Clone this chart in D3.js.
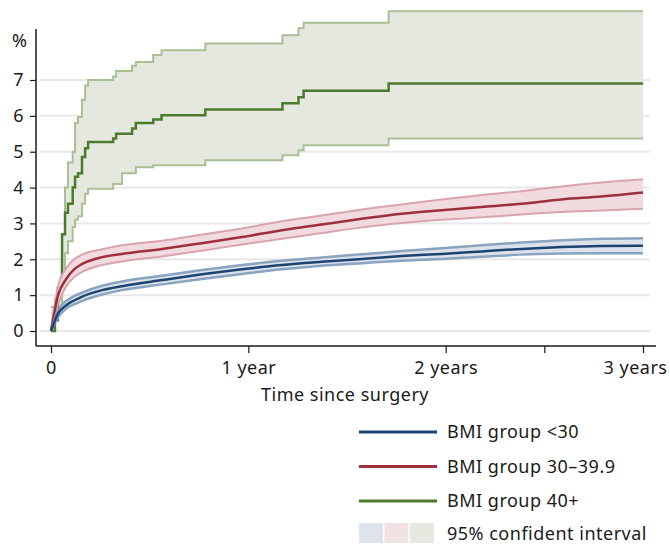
<!DOCTYPE html>
<html>
<head>
<meta charset="utf-8">
<script src="https://cdn.jsdelivr.net/npm/d3@7"></script>
<style>
  body { margin: 0; background: #fff; }
  svg text { font-family: "Noto Sans", "Open Sans", sans-serif; fill: #1a1a1a; letter-spacing: 0.5px; }
</style>
</head>
<body>
<div id="chart"></div>
<script>
// years since surgery, shared by the two smooth curves
const tSmooth = [0, 0.036, 0.077, 0.117, 0.158, 0.259, 0.36, 0.563, 0.765, 0.968, 1.17, 1.372, 1.575, 1.777, 1.98, 2.182, 2.385, 2.587, 2.789, 3.0];
const blueMid = [0, 0.49, 0.72, 0.85, 0.96, 1.14, 1.25, 1.42, 1.58, 1.72, 1.84, 1.93, 2.01, 2.09, 2.15, 2.22, 2.29, 2.34, 2.37, 2.38];
const blueHi  = [0, 0.58, 0.84, 0.97, 1.07, 1.26, 1.38, 1.54, 1.70, 1.84, 1.96, 2.05, 2.14, 2.23, 2.31, 2.39, 2.47, 2.53, 2.57, 2.59];
const blueLo  = [0, 0.39, 0.63, 0.74, 0.84, 1.02, 1.14, 1.30, 1.45, 1.59, 1.72, 1.82, 1.89, 1.96, 2.01, 2.07, 2.13, 2.16, 2.17, 2.17];
const redMid  = [0, 1.0, 1.45, 1.72, 1.87, 2.06, 2.15, 2.29, 2.45, 2.62, 2.81, 2.97, 3.13, 3.27, 3.37, 3.46, 3.55, 3.67, 3.75, 3.86];
const redHi   = [0, 1.25, 1.75, 2.00, 2.13, 2.28, 2.39, 2.52, 2.69, 2.86, 3.06, 3.22, 3.39, 3.53, 3.67, 3.79, 3.90, 4.03, 4.14, 4.23];
const redLo   = [0, 0.75, 1.25, 1.50, 1.65, 1.84, 1.94, 2.08, 2.24, 2.41, 2.57, 2.73, 2.89, 3.01, 3.10, 3.17, 3.25, 3.32, 3.36, 3.41];

// BMI 40+ (step curve)
const tGreen   = [0, 0.02, 0.035, 0.056, 0.071, 0.086, 0.11, 0.122, 0.137, 0.157, 0.173, 0.188, 0.315, 0.33, 0.36, 0.411, 0.43, 0.518, 0.56, 0.782, 1.173, 1.254, 1.28, 1.711, 3.0];
const greenMid = [0, 0.3, 1.2, 2.7, 3.3, 3.55, 4.0, 4.3, 4.4, 4.85, 5.1, 5.27, 5.37, 5.5, 5.5, 5.65, 5.8, 5.9, 6.02, 6.18, 6.35, 6.52, 6.7, 6.9, 6.9];
const greenHi  = [0.67, 0.9, 1.05, 2.7, 4.0, 4.7, 5.0, 5.8, 5.97, 6.45, 6.85, 7.0, 7.1, 7.25, 7.25, 7.4, 7.5, 7.7, 7.83, 8.02, 8.25, 8.44, 8.6, 8.92, 8.92];
const greenLo  = [0, 0.3, 0.58, 1.2, 2.17, 2.5, 2.9, 3.1, 3.2, 3.55, 3.83, 3.97, 4.1, 4.1, 4.4, 4.4, 4.57, 4.62, 4.62, 4.76, 4.9, 5.04, 5.18, 5.37, 5.37];

const yTicks = [0, 1, 2, 3, 4, 5, 6, 7];
const xTicks = [0, 1, 2, 2.5, 3];
const xLabels = {0: "0", 1: "1 year", 2: "2 years", 3: "3 years"};
const legendItems = ["BMI group <30", "BMI group 30\u201339.9", "BMI group 40+"];

const W = 670, H = 545;
const svg = d3.select("#chart").append("svg").attr("width", W).attr("height", H);

const x = d3.scaleLinear().domain([0, 3]).range([51, 643]);
const y = d3.scaleLinear().domain([0, 7]).range([331, 80]);

// gridlines
svg.append("g").selectAll("line").data(yTicks).join("line")
  .attr("x1", 40).attr("x2", 650)
  .attr("y1", d => y(d)).attr("y2", d => y(d))
  .attr("stroke", "#e8e8e8").attr("stroke-width", 2);

function series(t, mid, hi, lo, curve, c) {
  const pts = t.map((v, i) => ({t: v, m: mid[i], h: hi[i], l: lo[i]}));
  const g = svg.append("g");
  g.append("path").datum(pts)
    .attr("d", d3.area().x(d => x(d.t)).y0(d => y(d.l)).y1(d => y(d.h)).curve(curve))
    .attr("fill", c.fill).attr("opacity", c.op || 1);
  ["h", "l"].forEach(k => {
    g.append("path").datum(pts)
      .attr("d", d3.line().x(d => x(d.t)).y(d => y(d[k])).curve(curve))
      .attr("fill", "none").attr("stroke", c.edge).attr("stroke-width", c.ew);
  });
  g.append("path").datum(pts)
    .attr("d", d3.line().x(d => x(d.t)).y(d => y(d.m)).curve(curve))
    .attr("fill", "none").attr("stroke", c.line).attr("stroke-width", 2.5);
}

series(tGreen, greenMid, greenHi, greenLo, d3.curveStepAfter,
  {fill: "#e5e8df", edge: "#a9bf94", ew: 2, line: "#4d7a2c"});
series(tSmooth, redMid, redHi, redLo, d3.curveMonotoneX,
  {fill: "#f1d9dd", edge: "#d9a4ae", ew: 2, line: "#9e2f3d", op: 0.95});
series(tSmooth, blueMid, blueHi, blueLo, d3.curveMonotoneX,
  {fill: "#d9e0ea", edge: "#8aa4c0", ew: 2.5, line: "#1b4470", op: 0.95});

// axes
const ax = svg.append("g").attr("transform", "translate(0,346)")
  .call(d3.axisBottom(x).tickValues(xTicks).tickSize(7).tickFormat(d => xLabels[d] || ""));
ax.select(".domain").attr("d", "M36,0H656").attr("stroke", "#1a1a1a").attr("stroke-width", 1.5);
ax.selectAll(".tick line").attr("stroke", "#1a1a1a").attr("stroke-width", 1.2);
ax.selectAll(".tick text").attr("dy", "1.0em").attr("font-size", 18)
  .attr("font-family", "Noto Sans").attr("fill", "#1a1a1a");
ax.selectAll(".tick").filter(d => d === 3).select("text").attr("dx", -8);

const ay = svg.append("g").attr("transform", "translate(36,0)")
  .call(d3.axisLeft(y).tickValues(yTicks).tickSize(6).tickPadding(6).tickFormat(d3.format("d")));
ay.select(".domain").attr("d", "M0,29V346").attr("stroke", "#1a1a1a").attr("stroke-width", 1.5);
ay.selectAll(".tick line").attr("stroke", "#1a1a1a").attr("stroke-width", 1.2);
ay.selectAll(".tick text").attr("font-size", 18).attr("font-family", "Noto Sans").attr("fill", "#1a1a1a");

svg.append("text").attr("x", 12).attr("y", 47).attr("font-size", 18).text("%");
svg.append("text").attr("x", 345).attr("y", 401).attr("text-anchor", "middle")
  .attr("font-size", 18).text("Time since surgery");

// legend
const lineCols = ["#1b4470", "#9e2f3d", "#4d7a2c"];
const lg = svg.append("g");
legendItems.forEach((s, i) => {
  const yy = 432 + i * 34.5;
  lg.append("line").attr("x1", 359).attr("x2", 437).attr("y1", yy).attr("y2", yy)
    .attr("stroke", lineCols[i]).attr("stroke-width", 3);
  lg.append("text").attr("x", 447).attr("y", yy + 6).attr("font-size", 18).text(s);
});
["#dfe3ec", "#f1e2e4", "#e5e9df"].forEach((c, i) => {
  lg.append("rect").attr("x", 359 + i * 25.5).attr("y", 523).attr("width", 24).attr("height", 20).attr("fill", c);
});
lg.append("text").attr("x", 447).attr("y", 540).attr("font-size", 18).text("95% confident interval");
</script>
</body>
</html>
